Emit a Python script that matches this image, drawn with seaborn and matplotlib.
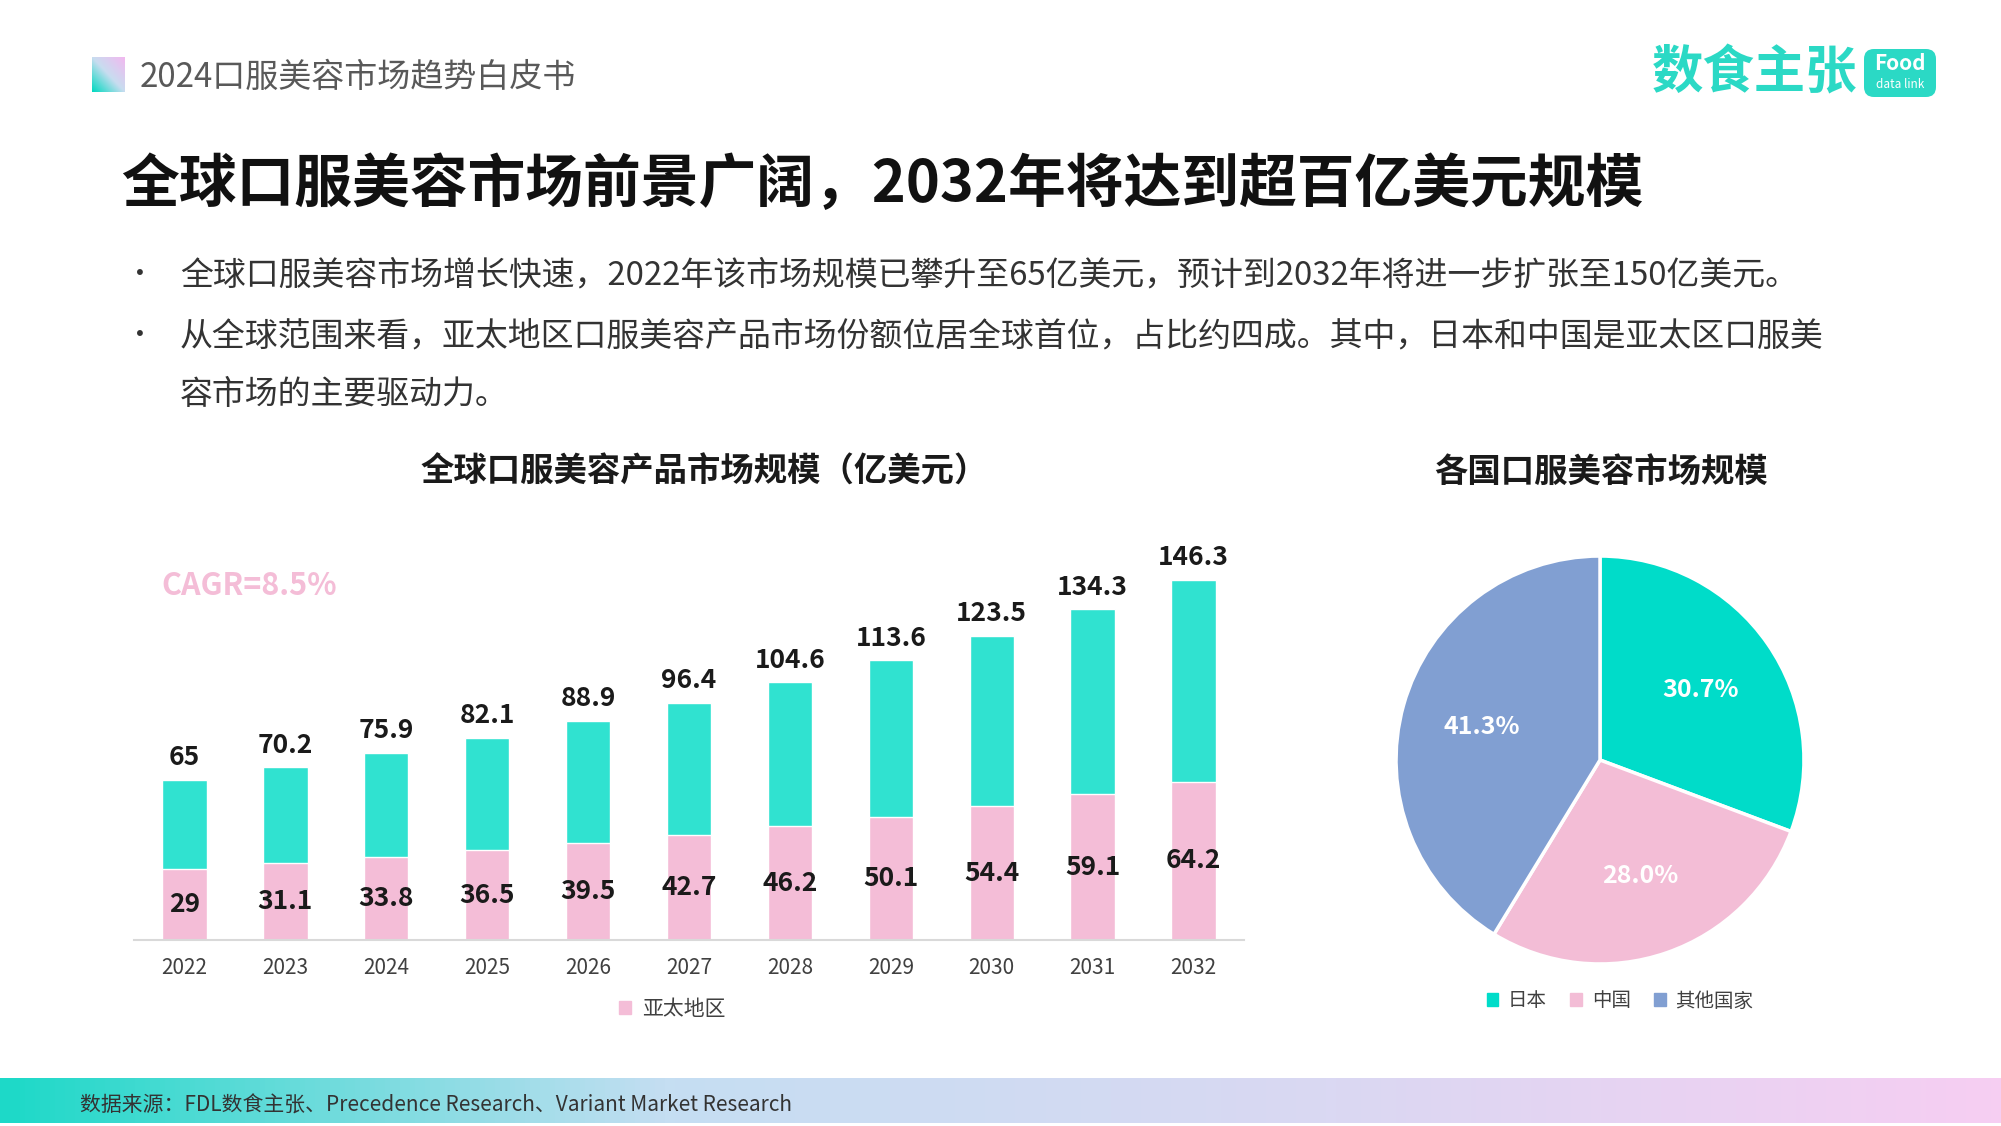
import numpy as np
import pandas as pd
import matplotlib
matplotlib.use('Agg')
import matplotlib.pyplot as plt
from matplotlib.patches import Patch, FancyBboxPatch
from matplotlib.colors import LinearSegmentedColormap
import seaborn as sns

# ---- données ----
years = ['2022', '2023', '2024', '2025', '2026', '2027', '2028', '2029', '2030', '2031', '2032']
market_total = [65, 70.2, 75.9, 82.1, 88.9, 96.4, 104.6, 113.6, 123.5, 134.3, 146.3]
apac_size = [29, 31.1, 33.8, 36.5, 39.5, 42.7, 46.2, 50.1, 54.4, 59.1, 64.2]

pie_labels = ['日本', '中国', '其他国家']
pie_shares = [30.7, 28.0, 41.3]

# ---- style ----
sns.set_theme(style='white')
plt.rcParams['font.family'] = ['Noto Sans CJK SC', 'DejaVu Sans']
plt.rcParams['figure.facecolor'] = 'white'

TEAL = '#30E2D0'
PINK = '#F4BDD7'
PIE_COLORS = ['#00DCC9', '#F3BDD6', '#819FD2']
W, H = 2001, 1126

fig = plt.figure(figsize=(W / 100, H / 100), dpi=100)

# calque de décor en coordonnées pixel
deco = fig.add_axes([0, 0, 1, 1], zorder=0)
deco.set_xlim(0, W)
deco.set_ylim(H, 0)
deco.axis('off')

# icône dégradé de l'en-tête
gx, gy = np.meshgrid(np.linspace(0, 1, 60), np.linspace(0, 1, 60))
icon_cmap = LinearSegmentedColormap.from_list('icon', ['#00D9C0', '#C8DDF0', '#F2B8EF'])
deco.imshow((gx + (1 - gy)) / 2, cmap=icon_cmap, extent=[92, 125, 92, 57], aspect='auto')
deco.text(140, 77, '2024口服美容市场趋势白皮书', fontsize=23.8, color='#595959', va='center')

# logo
deco.text(1652, 73, '数食主张', fontsize=37, color='#2BD9C5', fontweight='heavy', va='center')
deco.add_patch(FancyBboxPatch((1864, 49), 72, 48, boxstyle='round,pad=0,rounding_size=10',
                              fc='#2BD9C5', ec='none'))
deco.text(1900, 64, 'Food', fontsize=15, color='white', fontweight='bold', ha='center', va='center')
deco.text(1900, 85, 'data link', fontsize=8.5, color='white', ha='center', va='center')

# titre et puces
deco.text(121, 185, '全球口服美容市场前景广阔，2032年将达到超百亿美元规模',
          fontsize=41.6, fontweight='bold', color='#111111', va='center')
bullets = [
    (275, '全球口服美容市场增长快速，2022年该市场规模已攀升至65亿美元，预计到2032年将进一步扩张至150亿美元。', True),
    (336, '从全球范围来看，亚太地区口服美容产品市场份额位居全球首位，占比约四成。其中，日本和中国是亚太区口服美', True),
    (395, '容市场的主要驱动力。', False),
]
for y, txt, dot in bullets:
    if dot:
        deco.text(140, y, '•', fontsize=20, color='#333333', ha='center', va='center')
    deco.text(180, y, txt, fontsize=23.7, color='#333333', va='center')

# sous-titres des graphiques
deco.text(704, 472, '全球口服美容产品市场规模（亿美元）', fontsize=24, fontweight='bold',
          color='#1a1a1a', ha='center', va='center')
deco.text(1601, 472, '各国口服美容市场规模', fontsize=24, fontweight='bold',
          color='#1a1a1a', ha='center', va='center')

# bandeau de bas de page
foot_cmap = LinearSegmentedColormap.from_list('foot', ['#1DD9C8', '#C5DEF2', '#DAD8F3', '#F6CEF2'])
deco.imshow(np.linspace(0, 1, 400).reshape(1, -1), cmap=foot_cmap,
            extent=[0, W, 1123, 1078], aspect='auto')
deco.text(80, 1106, '数据来源：FDL数食主张、Precedence Research、Variant Market Research',
          fontsize=15, color='#333333', va='center')
deco.set_xlim(0, W)
deco.set_ylim(H, 0)

# ---- graphique à barres ----
df = pd.DataFrame({'年份': years, '总规模': market_total, '亚太地区': apac_size})

ax = fig.add_axes([134 / W, (H - 940) / H, 1110 / W, 394 / H], zorder=2)
ax.patch.set_alpha(0)
sns.barplot(data=df, x='年份', y='总规模', color=TEAL, saturation=1, width=0.44, ax=ax)
sns.barplot(data=df, x='年份', y='亚太地区', color=PINK, saturation=1, width=0.44, ax=ax)
ax.set_ylim(0, 160)
ax.set_xlim(-0.5, len(years) - 0.5)
ax.set_xlabel('')
ax.set_ylabel('')
ax.set_yticks([])
sns.despine(ax=ax, left=True)
ax.spines['bottom'].set_color('#d9d9d9')
ax.spines['bottom'].set_linewidth(1.5)
ax.tick_params(axis='x', length=0, pad=12, labelsize=15, labelcolor='#404040')

for i, (t, a) in enumerate(zip(market_total, apac_size)):
    ax.text(i, t + 3.5, f'{t:g}', ha='center', va='bottom', fontsize=19,
            fontweight='bold', color='#1a1a1a')
    ax.text(i, a / 2, f'{a:g}', ha='center', va='center', fontsize=19,
            fontweight='bold', color='#1a1a1a')

ax.text(0.025, 0.898, 'CAGR=8.5%', transform=ax.transAxes, fontsize=22,
        fontweight='bold', color=PINK, va='center')

fig.legend(handles=[Patch(color=PINK, label='亚太地区')], loc='center',
           bbox_to_anchor=(672 / W, 1 - 1009 / H), frameon=False, fontsize=15,
           handlelength=0.6, handleheight=0.6, handletextpad=0.5, labelcolor='#404040')

# ---- camembert ----
pax = fig.add_axes([(1600 - 206) / W, (H - 966) / H, 412 / W, 412 / H], zorder=2)
wedges, _, autotexts = pax.pie(pie_shares, colors=PIE_COLORS, startangle=90, counterclock=False,
                               autopct=lambda p: f'{p:.1f}%', pctdistance=0.6,
                               wedgeprops=dict(edgecolor='white', linewidth=2.5))
for t in autotexts:
    t.set_color('white')
    t.set_fontsize(18)
    t.set_fontweight('bold')
pax.set_xlim(-1.01, 1.01)
pax.set_ylim(-1.01, 1.01)

fig.legend(handles=[Patch(color=c, label=l) for c, l in zip(PIE_COLORS, pie_labels)],
           loc='center', bbox_to_anchor=(1620 / W, 1 - 1001 / H), ncol=3, frameon=False,
           fontsize=14, handlelength=0.6, handleheight=0.6, handletextpad=0.5,
           columnspacing=1.2, labelcolor='#404040')

plt.savefig('out.png', dpi=100)
